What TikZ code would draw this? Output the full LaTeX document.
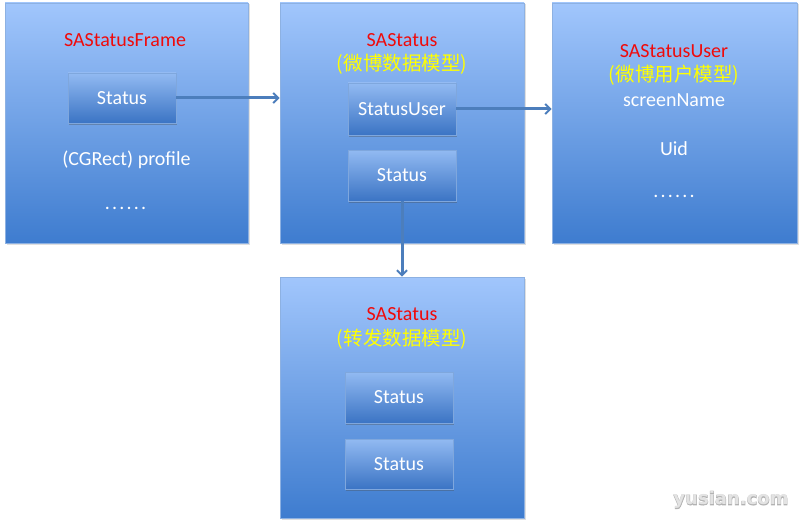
\documentclass[tikz,border=0pt]{standalone}
\usepackage{fontspec}
\setmainfont{Carlito}
\newfontfamily\cjk{Noto Sans CJK SC}
\newfontfamily\wmfont{DejaVu Sans Bold}
\newfontfamily\wmfontfat{DejaVu Sans Bold}[FakeBold=4]
\usetikzlibrary{arrows.meta,shadows}
\definecolor{outtop}{HTML}{A1C6FC}
\definecolor{outbot}{HTML}{3E7CCF}
\definecolor{outline}{HTML}{8DB1E2}
\definecolor{intop}{HTML}{92BAF2}
\definecolor{inbot}{HTML}{3B74C4}
\definecolor{inline}{HTML}{7FA7DD}
\definecolor{arrowc}{HTML}{4C7EBC}
\definecolor{titlered}{HTML}{F00A0A}
\definecolor{cjkyellow}{HTML}{FFFF00}
\tikzset{
  outerbox/.style={rectangle, draw=outline, line width=0.8pt, top color=outtop, bottom color=outbot,
    drop shadow={shadow xshift=1.5pt, shadow yshift=-1.5pt, opacity=0.25, fill=gray}},
  innerbox/.style={rectangle, draw=inline, line width=0.6pt, top color=intop, bottom color=inbot,
    minimum width=108pt, inner sep=0pt, text=white, font=\fontsize{20}{22}\selectfont,
    drop shadow={shadow xshift=0.5pt, shadow yshift=-2pt, opacity=0.35, fill=black!70}},
  wtext/.style={text=white, font=\fontsize{20}{22}\selectfont, inner sep=0pt},
  dots/.style={text=white, font=\fontsize{20}{22}\selectfont, inner sep=0pt},
  rtext/.style={text=titlered, font=\fontsize{20}{22}\selectfont, inner sep=0pt},
  ytext/.style={text=cjkyellow, font=\cjk\fontsize{19.5}{22}\selectfont, inner sep=0pt},
  conn/.style={draw=arrowc, line width=3pt, -{Straight Barb[length=5pt,width=10pt,line width=2pt]}},
  wmark/.style={inner sep=0pt, font=\fontsize{18}{20}\selectfont}
}
\newcommand{\sixdots}{.\kern2.2pt.\kern2.2pt.\kern2.2pt.\kern2.2pt.\kern2.2pt.}
\begin{document}
\begin{tikzpicture}[x=1pt,y=-1pt]
\useasboundingbox (0,0) rectangle (800,524);
% outer boxes
\node[outerbox, minimum width=243pt, minimum height=240pt] (box1) at (126.5,123) {};
\node[outerbox, minimum width=244pt, minimum height=240pt] (box2) at (402,123) {};
\node[outerbox, minimum width=245pt, minimum height=240pt] (box3) at (674.5,123) {};
\node[outerbox, minimum width=244pt, minimum height=241pt] (box4) at (402,397.5) {};
% box 1 contents
\node[rtext] (t1) at (125,40) {SAStatusFrame};
\node[innerbox, minimum height=50pt] (b1s) at (122,98) {Status};
\node[wtext] (p1) at (126.5,160) {(CGRect) profile};
\node[dots] (d1) at (125.5,208) {\sixdots};
% box 2 contents
\node[rtext] (t2) at (402,40) {SAStatus};
\node[ytext] (c2) at (402,64) {(微博数据模型)};
\node[innerbox, minimum height=52pt] (b2u) at (402,109) {StatusUser};
\node[innerbox, minimum height=51pt] (b2s) at (402,175.5) {Status};
% box 3 contents
\node[rtext] (t3) at (674,51) {SAStatusUser};
\node[ytext] (c3) at (674,75) {(微博用户模型)};
\node[wtext] (s3) at (674,100) {screenName};
\node[wtext] (u3) at (674,149) {Uid};
\node[dots] (d3) at (674,196) {\sixdots};
% box 4 contents
\node[rtext] (t4) at (402,314) {SAStatus};
\node[ytext] (c4) at (402,339) {(转发数据模型)};
\node[innerbox, minimum height=51pt] (b4a) at (399,397.5) {Status};
\node[innerbox, minimum height=50pt] (b4b) at (399,464) {Status};
% connectors
\draw[conn] (b1s.east) -- (b1s.east -| box2.west);
\draw[conn] (b2u.east) -- (b2u.east -| box3.west);
\draw[conn] (b2s.south) -- (b2s.south |- box4.north);
% watermark (outlined look)
\node[wmark, text=gray!60] (wmo) at (731,500) {\wmfontfat yusian.com};
\node[wmark, text=gray!22] (wm) at (wmo) {\wmfont yusian.com};
\end{tikzpicture}
\end{document}
